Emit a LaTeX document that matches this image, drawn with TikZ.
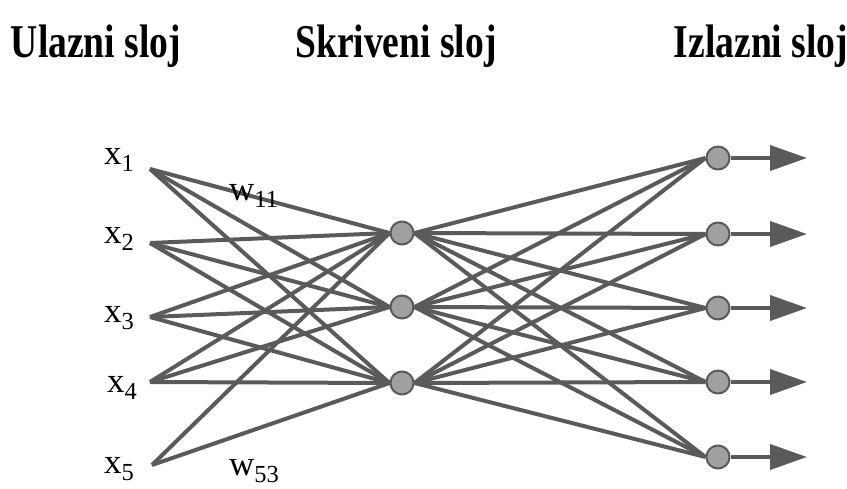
\documentclass[tikz,border=0pt]{standalone}
\usepackage{fontspec}
\setmainfont{Liberation Serif}
\newfontfamily\titlefont{Liberation Serif}[FakeStretch=0.8]
\usetikzlibrary{arrows.meta}
\definecolor{edgegray}{HTML}{5A5A5A}
\definecolor{nodegray}{HTML}{A0A0A0}

\begin{document}
\begin{tikzpicture}[x=1pt,y=-1pt,
    neuron/.style={circle,draw=edgegray,fill=nodegray,line width=2pt,minimum size=23pt,inner sep=0pt},
    wire/.style={draw=edgegray,line width=4pt},
    title/.style={font=\titlefont\bfseries\fontsize{47}{50}\selectfont,anchor=base,inner sep=0pt},
    lbl/.style={font=\fontsize{35}{38}\selectfont,anchor=base west,inner sep=0pt}]
    \useasboundingbox (0,0) rectangle (847,488);

    % layer titles
    \node[title] (tin)  at (96,57)  {Ulazni sloj};
    \node[title] (thid) at (396,57) {Skriveni sloj};
    \node[title] (tout) at (761,57) {Izlazni sloj};

    % inputs
    \coordinate (i1) at (150,169);
    \coordinate (i2) at (150,243);
    \coordinate (i3) at (150,317);
    \coordinate (i4) at (150,382);
    \coordinate (i5) at (152,465);
    \node[lbl] (x1) at (104,164) {x\textsubscript{1}};
    \node[lbl] (x2) at (104,243) {x\textsubscript{2}};
    \node[lbl] (x3) at (104,322) {x\textsubscript{3}};
    \node[lbl] (x4) at (107,392) {x\textsubscript{4}};
    \node[lbl] (x5) at (104,473) {x\textsubscript{5}};

    % hidden and output neurons
    \node[neuron] (h1) at (402,233) {};
    \node[neuron] (h2) at (402,307) {};
    \node[neuron] (h3) at (402,383) {};
    \node[neuron] (o1) at (718,158) {};
    \node[neuron] (o2) at (718,234) {};
    \node[neuron] (o3) at (718,308) {};
    \node[neuron] (o4) at (718,382) {};
    \node[neuron] (o5) at (718,457) {};

    % weights
    \foreach \i in {1,...,4}
      \foreach \h in {1,2,3}
        \draw[wire] (i\i) -- (h\h.west);
    \draw[wire] (i5) -- (h1.west);
    \draw[wire] (i5) -- (h3.west);
    \foreach \h in {1,2,3}
      \foreach \o in {1,...,5}
        \draw[wire] (h\h.east) -- (o\o.west);

    % outputs
    \foreach \o/\y in {1/158,2/234,3/308,4/382,5/457} {
      \coordinate (t\o) at (807,\y);
      \draw[wire,-{Triangle[length=37pt,width=25pt]}] (o\o.east) -- (t\o);
    }

    \node[lbl] (w11) at (229,200) {w\textsubscript{11}};
    \node[lbl] (w53) at (229,475) {w\textsubscript{53}};
\end{tikzpicture}
\end{document}
